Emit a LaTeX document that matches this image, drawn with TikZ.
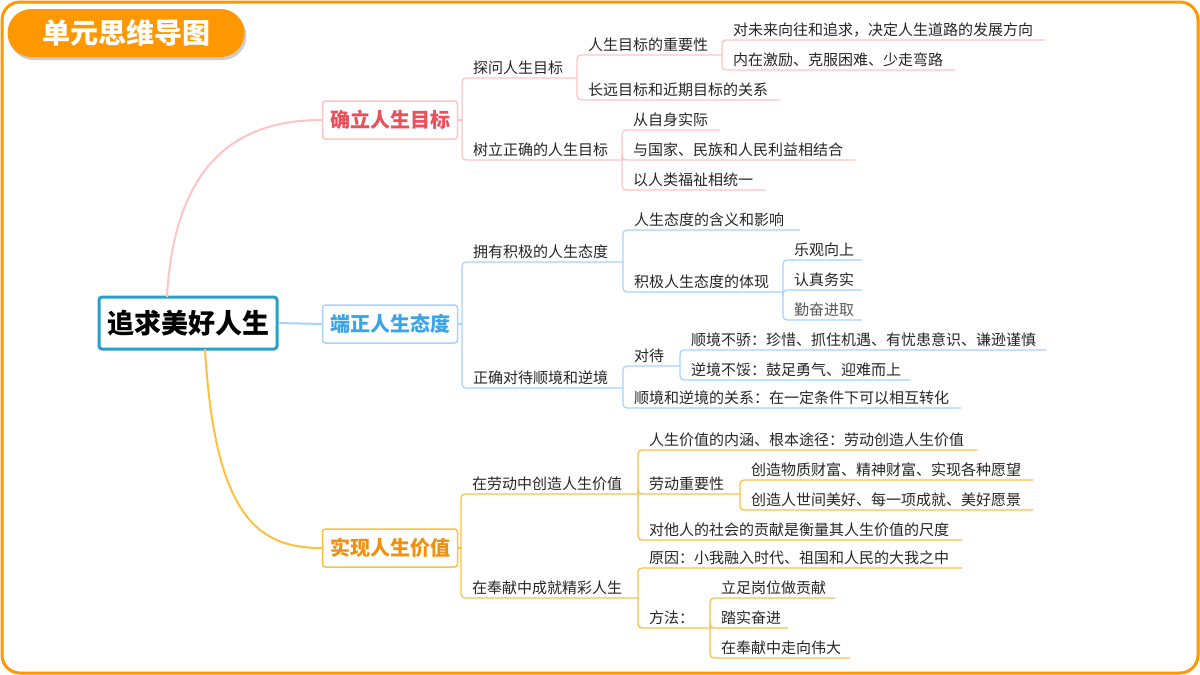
\documentclass[tikz,border=0pt]{standalone}
\usepackage{fontspec}
\setmainfont{Noto Sans CJK SC}
\usetikzlibrary{shadows}
\definecolor{org}{HTML}{FF9800}
\definecolor{pinkl}{HTML}{FFC4C4}
\definecolor{bluel}{HTML}{A8D2FF}
\definecolor{orgl}{HTML}{FFC040}
\definecolor{redt}{HTML}{E8505A}
\definecolor{bluet}{HTML}{3AA4E8}
\definecolor{orgt}{HTML}{F0900E}
\definecolor{teal}{HTML}{2AA0C8}
\tikzset{
 leaf/.style={font=\fontsize{15}{17}\selectfont, text=black!85, inner sep=2pt, anchor=south west},
 conn/.style={line width=1.3pt, rounded corners=4pt},
 mainbox/.style={draw, line width=1.5pt, rounded corners=3pt, fill=white, font=\bfseries\fontsize{20}{23}\selectfont, minimum width=135pt, minimum height=38pt, inner sep=2pt},
}
\newcommand\leaf[6]{%
 \coordinate (#1-s) at (#2,#3);
 \coordinate (#1-e) at (#5,#4);
 \node[leaf] (#1) at (#2+9,#4-1) {#6};
 \draw[conn] (#1-s) |- (#1-e);
}
\begin{document}
\begin{tikzpicture}[x=1pt,y=-1pt]
\useasboundingbox (0,0) rectangle (1200,675);
\fill[white] (0,0) rectangle (1200,675);
\draw[org, line width=3pt, rounded corners=18pt] (2,2) rectangle (1198,673);
\node[fill=org, rounded corners=24pt, minimum width=237pt, minimum height=48pt, drop shadow={shadow xshift=2pt,shadow yshift=-3pt,opacity=0.4}, text=white, font=\bfseries\fontsize{28}{30}\selectfont, inner sep=0pt] (title) at (126,33) {单元思维导图};
\node[draw=teal, line width=3pt, rounded corners=3pt, fill=white, minimum width=178pt, minimum height=52pt, font=\bfseries\fontsize{27}{30}\selectfont, inner sep=0pt] (root) at (188,323) {追求美好人生};
\node[mainbox, draw=pinkl, text=redt] (m1) at (390,120) {确立人生目标};
\node[mainbox, draw=bluel, text=bluet] (m2) at (390,324) {端正人生态度};
\node[mainbox, draw=orgl, text=orgt] (m3) at (390,548) {实现人生价值};
\coordinate (r1) at (167,297);
\coordinate (r3) at (205,349);
\draw[pinkl, line width=2pt] (r1) .. controls (175,150) and (250,120) .. (m1.west);
\draw[bluel, line width=2pt] (root.east) -- (m2.west);
\draw[orgl, line width=2pt] (r3) .. controls (215,520) and (260,548) .. (m3.west);
% branch 1
\begin{scope}[conn/.append style={pinkl}]
\draw[conn] (m1.east) -- (462,120);
\leaf{a1}{462}{120}{78}{577}{探问人生目标}
\leaf{a2}{462}{120}{160}{622}{树立正确的人生目标}
\leaf{a11}{577}{78}{55}{722}{人生目标的重要性}
\leaf{a12}{577}{78}{100}{780}{长远目标和近期目标的关系}
\leaf{a111}{722}{55}{40}{1045}{对未来向往和追求，决定人生道路的发展方向}
\leaf{a112}{722}{55}{70}{955}{内在激励、克服困难、少走弯路}
\leaf{a21}{622}{160}{130}{720}{从自身实际}
\leaf{a22}{622}{160}{160}{855}{与国家、民族和人民利益相结合}
\leaf{a23}{622}{160}{190}{765}{以人类福祉相统一}
\end{scope}
% branch 2
\begin{scope}[conn/.append style={bluel}]
\draw[conn] (m2.east) -- (462,324);
\leaf{b1}{462}{324}{262}{623}{拥有积极的人生态度}
\leaf{b2}{462}{324}{388}{623}{正确对待顺境和逆境}
\leaf{b11}{623}{262}{230}{800}{人生态度的含义和影响}
\leaf{b12}{623}{262}{292}{783}{积极人生态度的体现}
\leaf{b121}{783}{292}{260}{862}{乐观向上}
\leaf{b122}{783}{292}{290}{862}{认真务实}
\leaf{b123}{783}{292}{320}{862}{\textcolor{black!65}{勤奋进取}}
\leaf{b21}{623}{388}{366}{680}{对待}
\leaf{b22}{623}{388}{408}{961}{顺境和逆境的关系：在一定条件下可以相互转化}
\leaf{b211}{680}{366}{350}{1046}{顺境不骄：珍惜、抓住机遇、有忧患意识、谦逊谨慎}
\leaf{b212}{680}{366}{380}{910}{逆境不馁：鼓足勇气、迎难而上}
\end{scope}
% branch 3
\begin{scope}[conn/.append style={orgl}]
\draw[conn] (m3.east) -- (461,548);
\leaf{c1}{461}{548}{494}{638}{在劳动中创造人生价值}
\leaf{c2}{461}{548}{598}{638}{在奉献中成就精彩人生}
\leaf{c11}{638}{494}{450}{977}{人生价值的内涵、根本途径：劳动创造人生价值}
\leaf{c12}{638}{494}{494}{740}{劳动重要性}
\leaf{c13}{638}{494}{540}{962}{对他人的社会的贡献是衡量其人生价值的尺度}
\leaf{c121}{740}{494}{480}{1033}{创造物质财富、精神财富、实现各种愿望}
\leaf{c122}{740}{494}{510}{1033}{创造人世间美好、每一项成就、美好愿景}
\leaf{c21}{638}{598}{568}{962}{原因：小我融入时代、祖国和人民的大我之中}
\leaf{c22}{638}{598}{628}{710}{方法：}
\leaf{c221}{710}{628}{598}{835}{立足岗位做贡献}
\leaf{c222}{710}{628}{628}{788}{踏实奋进}
\leaf{c223}{710}{628}{658}{850}{在奉献中走向伟大}
\end{scope}
\end{tikzpicture}
\end{document}
